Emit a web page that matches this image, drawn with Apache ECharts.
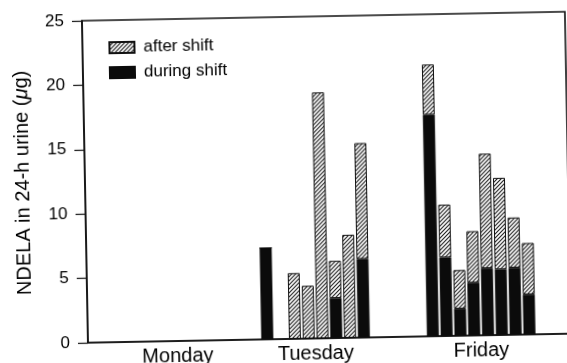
<!DOCTYPE html>
<html>
<head>
<meta charset="utf-8">
<script src="https://cdn.jsdelivr.net/npm/echarts@6/dist/echarts.min.js"></script>
<style>
  html, body { margin: 0; padding: 0; background: #fff; overflow: hidden; width: 567px; height: 363px; }
  #chart {
    position: absolute; left: -26px; top: -18px; width: 620px; height: 400px;
    transform: rotate(-1.07deg); transform-origin: 50% 50%;
  }
</style>
</head>
<body>
<div id="chart"></div>
<script>
// Days and subjects
const days = ['Monday', 'Tuesday', 'Friday'];
const subjectsPerDay = 8;

// NDELA (µg in 24-h urine), one value per subject; null = no sample
const duringMonday = [null, null, null, null, null, null, null, null];
const afterMonday  = [null, null, null, null, null, null, null, null];
const duringTuesday = [7.1, null, 0, 0, 0, 3.1, 0, 6.1];
const afterTuesday  = [0, null, 5.1, 4.1, 19.1, 2.9, 8.0, 9.0];
const duringFriday = [17.2, 6.1, 2.1, 4.1, 5.2, 5.1, 5.2, 3.1];
const afterFriday  = [3.9, 4.1, 3.0, 4.0, 8.9, 7.1, 3.9, 4.0];

// y axis
const yMin = 0, yMax = 25, yStep = 5;

// Slot layout along the x axis (first slot of each day group)
const slotCount = 36;
const groupStart = [3, 13, 25];

const during = [duringMonday, duringTuesday, duringFriday];
const after = [afterMonday, afterTuesday, afterFriday];

const categories = [];
const duringData = [];
const afterData = [];
for (let i = 0; i < slotCount; i++) {
  categories.push('');
  duringData.push(null);
  afterData.push(null);
}
days.forEach((d, g) => {
  for (let k = 0; k < subjectsPerDay; k++) {
    const idx = groupStart[g] + k;
    categories[idx] = d + ' ' + (k + 1);
    duringData[idx] = during[g][k];
    afterData[idx] = after[g][k];
  }
});
const dayLabelPos = groupStart.map(s => s + (subjectsPerDay - 1) / 2);

// Diagonal hatching for the "after shift" fill
function hatch() {
  const s = 4;
  const c = document.createElement('canvas');
  c.width = s; c.height = s;
  const ctx = c.getContext('2d');
  ctx.fillStyle = '#fff';
  ctx.fillRect(0, 0, s, s);
  ctx.strokeStyle = '#1a1a1a';
  ctx.lineWidth = 1.1;
  ctx.beginPath();
  ctx.moveTo(-1, s + 1); ctx.lineTo(s + 1, -1);
  ctx.moveTo(-1, 1); ctx.lineTo(1, -1);
  ctx.moveTo(s - 1, s + 1); ctx.lineTo(s + 1, s - 1);
  ctx.stroke();
  return c;
}
const hatchFill = { image: hatch(), repeat: 'repeat' };

const font = 'Liberation Sans';
const chart = echarts.init(document.getElementById('chart'), null, { renderer: 'canvas' });
chart.setOption({
  animation: false,
  backgroundColor: '#fff',
  textStyle: { fontFamily: font, color: '#000' },
  grid: {
    left: 111, top: 35, width: 483, height: 322,
    show: true, borderColor: '#111', borderWidth: 1.6, backgroundColor: 'transparent'
  },
  legend: {
    orient: 'vertical', left: 132, top: 49,
    itemWidth: 25, itemHeight: 11, itemGap: 8,
    icon: 'rect',
    data: ['after shift', 'during shift'],
    textStyle: { fontFamily: font, fontSize: 17, color: '#000', padding: [0, 0, 0, 4] }
  },
  xAxis: [
    {
      type: 'category', data: categories, boundaryGap: false,
      axisLine: { lineStyle: { color: '#111', width: 1.6 } },
      axisTick: { show: false }, axisLabel: { show: false }, splitLine: { show: false }
    },
    {
      type: 'value', min: 0, max: slotCount - 1, position: 'bottom',
      axisLine: { show: false }, axisTick: { show: false }, splitLine: { show: false },
      axisLabel: {
        customValues: dayLabelPos,
        formatter: v => days[dayLabelPos.indexOf(v)] || '',
        fontFamily: font, fontSize: 20, color: '#000', margin: 5
      }
    }
  ],
  yAxis: {
    type: 'value', min: yMin, max: yMax, interval: yStep,
    name: 'NDELA in 24-h urine ({mu|μ}g)',
    nameLocation: 'middle', nameGap: 52, nameRotate: 90,
    nameTextStyle: {
      fontFamily: font, fontSize: 20, color: '#000',
      rich: { mu: { fontFamily: font, fontSize: 20, fontStyle: 'italic', color: '#000' } }
    },
    axisLine: { show: true, lineStyle: { color: '#111', width: 1.6 } },
    axisTick: { show: true, length: 10, lineStyle: { color: '#111', width: 1.2 } },
    axisLabel: { fontFamily: font, fontSize: 17, color: '#000', margin: 18 },
    splitLine: { show: false }
  },
  series: [
    {
      name: 'during shift', type: 'bar', stack: 'day', xAxisIndex: 0,
      barWidth: 12, data: duringData,
      itemStyle: { color: '#0b0b0b', borderColor: '#0b0b0b', borderWidth: 0.5 }
    },
    {
      name: 'after shift', type: 'bar', stack: 'day', xAxisIndex: 0,
      barWidth: 12, data: afterData,
      itemStyle: { color: hatchFill, borderColor: '#111', borderWidth: 1 }
    }
  ]
});
</script>
</body>
</html>
